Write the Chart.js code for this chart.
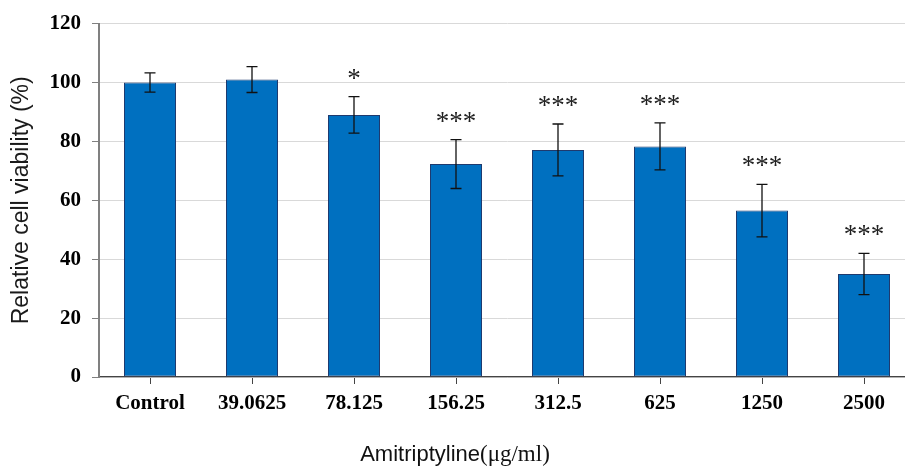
<!DOCTYPE html>
<html>
<head>
<meta charset="utf-8">
<script src="https://cdn.jsdelivr.net/npm/chart.js@4/dist/chart.umd.min.js"></script>
<style>
  html, body { margin: 0; padding: 0; background: #fff; overflow: hidden; }
  #wrap { width: 916px; height: 468px; }
</style>
</head>
<body>
<div id="wrap"><canvas id="chartCanvas"></canvas></div>
<script>
const categories = ['Control', '39.0625', '78.125', '156.25', '312.5', '625', '1250', '2500'];
const viability = [100, 101, 89, 72.3, 77.1, 78.3, 56.5, 35];
const errors = [3.3, 4.4, 6.2, 8.3, 8.8, 8.0, 8.9, 7.0];
const stars = ['', '', '*', '***', '***', '***', '***', '***'];
const yTicks = [0, 20, 40, 60, 80, 100, 120];

// error bars, significance marks and the x title (serif unit part)
const extras = {
    id: 'extras',
    afterDatasetsDraw(chart) {
        const ctx = chart.ctx;
        const y = chart.scales.y;
        const meta = chart.getDatasetMeta(0);
        ctx.save();
        meta.data.forEach((bar, i) => {
            const hi = y.getPixelForValue(viability[i] + errors[i]);
            const lo = y.getPixelForValue(viability[i] - errors[i]);
            ctx.strokeStyle = '#111';
            ctx.lineWidth = 1.3;
            ctx.beginPath();
            ctx.moveTo(bar.x, hi); ctx.lineTo(bar.x, lo);
            ctx.moveTo(bar.x - 5.5, hi); ctx.lineTo(bar.x + 5.5, hi);
            ctx.moveTo(bar.x - 5.5, lo); ctx.lineTo(bar.x + 5.5, lo);
            ctx.stroke();
            if (stars[i]) {
                ctx.fillStyle = '#222';
                ctx.font = '27px "Liberation Serif"';
                ctx.textAlign = 'center';
                ctx.textBaseline = 'alphabetic';
                ctx.fillText(stars[i], bar.x, hi - 10);
            }
        });

        // x axis title
        const part1 = 'Amitriptyline';
        const part2 = '(μg/ml)';
        ctx.fillStyle = '#111';
        ctx.textBaseline = 'middle';
        ctx.textAlign = 'left';
        ctx.font = '22px "Liberation Sans"';
        const w1 = ctx.measureText(part1).width;
        ctx.font = '23px "Liberation Serif"';
        const w2 = ctx.measureText(part2).width;
        let x0 = 455 - (w1 + w2) / 2;
        ctx.font = '22px "Liberation Sans"';
        ctx.fillText(part1, x0, 455);
        ctx.font = '23px "Liberation Serif"';
        ctx.fillText(part2, x0 + w1, 455);
        ctx.restore();
    }
};

new Chart(document.getElementById('chartCanvas').getContext('2d'), {
    type: 'bar',
    data: {
        labels: categories,
        datasets: [{
            data: viability,
            backgroundColor: '#0070C0',
            borderColor: '#1F3A6E',
            borderWidth: 1,
            borderSkipped: false,
            barPercentage: 0.51,
            categoryPercentage: 1
        }]
    },
    options: {
        responsive: true,
        maintainAspectRatio: false,
        animation: false,
        layout: { padding: { top: 22, right: 1, left: 0, bottom: 0 } },
        plugins: { legend: { display: false }, tooltip: { enabled: false } },
        scales: {
            x: {
                grid: { drawOnChartArea: false, tickLength: 7, tickColor: '#444', offset: false },
                border: { color: '#444', width: 1.2 },
                ticks: { color: '#000', padding: 7, font: { family: 'Liberation Serif', weight: 'bold', size: 21 } },
                afterFit(scale) { scale.height = 91; }
            },
            y: {
                min: 0,
                max: 120,
                afterBuildTicks(scale) { scale.ticks = yTicks.map(v => ({ value: v })); },
                grid: { color: '#d9d9d9', tickLength: 7, tickColor: '#808080' },
                border: { color: '#808080', width: 2 },
                ticks: { color: '#000', padding: 11, font: { family: 'Liberation Serif', weight: 'bold', size: 21 } },
                title: {
                    display: true,
                    text: 'Relative cell viability (%)',
                    color: '#1a1a1a',
                    font: { family: 'Liberation Sans', size: 23 },
                    padding: { top: 8, bottom: 0 }
                },
                afterFit(scale) { scale.width = 99; }
            }
        }
    },
    plugins: [extras]
});
</script>
</body>
</html>
